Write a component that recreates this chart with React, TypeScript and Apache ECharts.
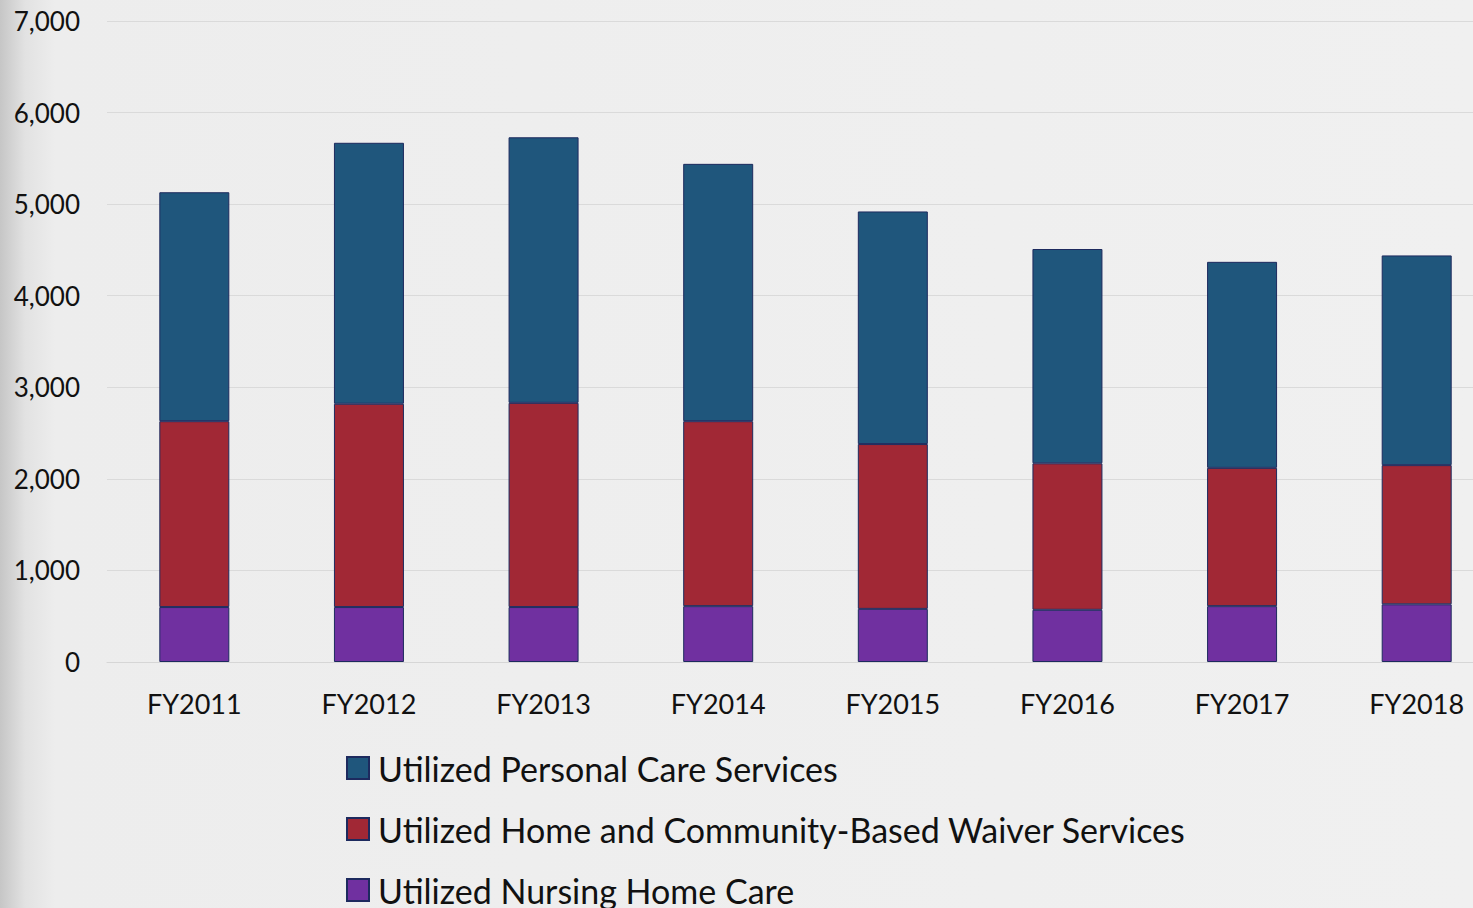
import React, { useEffect, useRef } from "react";
import * as echarts from "echarts";

const categories = ["FY2011", "FY2012", "FY2013", "FY2014", "FY2015", "FY2016", "FY2017", "FY2018"];
const nursingHome = [600, 600, 600, 610, 580, 570, 610, 630];
const hcbsWaiver = [2030, 2220, 2230, 2020, 1800, 1600, 1510, 1520];
const personalCare = [2500, 2850, 2900, 2810, 2540, 2340, 2250, 2290];

const seriesNames = [
  "Utilized Personal Care Services",
  "Utilized Home and Community-Based Waiver Services",
  "Utilized Nursing Home Care",
];

export default function App() {
  const ref = useRef<HTMLDivElement>(null);
  useEffect(() => {
    if (!ref.current) return;
    const chart = echarts.init(ref.current, undefined, { renderer: "svg" });
    const border = { borderColor: "#1d2a5e", borderWidth: 1 };
    chart.setOption({
      animation: false,
      backgroundColor: "transparent",
      textStyle: { fontFamily: "Lato" },
      grid: { left: 107, top: 21, right: 0, height: 641, containLabel: false },
      legend: {
        orient: "vertical",
        left: 341,
        top: 746,
        itemWidth: 22,
        itemHeight: 22,
        itemGap: 27,
        icon: "rect",
        data: seriesNames,
        textStyle: {
          fontSize: 34,
          lineHeight: 34,
          color: "#111",
          fontFamily: "Lato",
          padding: [0, 0, 0, 4],
        },
      },
      xAxis: {
        type: "category",
        data: categories,
        axisTick: { show: false },
        axisLine: { lineStyle: { color: "#d6d6d6", width: 1 } },
        axisLabel: { fontSize: 27, color: "#111", margin: 28, fontFamily: "Lato" },
      },
      yAxis: {
        type: "value",
        min: 0,
        max: 7000,
        interval: 1000,
        axisLine: { show: false },
        axisTick: { show: false },
        splitLine: { lineStyle: { color: "#dadada", width: 1 } },
        axisLabel: {
          fontSize: 26,
          color: "#111",
          margin: 27,
          fontFamily: "Lato",
          formatter: (v: number) => v.toLocaleString("en-US"),
        },
      },
      series: [
        {
          name: seriesNames[2],
          type: "bar",
          stack: "total",
          barWidth: 70,
          data: nursingHome,
          itemStyle: { color: "#7030a0", ...border },
        },
        {
          name: seriesNames[1],
          type: "bar",
          stack: "total",
          barWidth: 70,
          data: hcbsWaiver,
          itemStyle: { color: "#a12835", ...border },
        },
        {
          name: seriesNames[0],
          type: "bar",
          stack: "total",
          barWidth: 70,
          data: personalCare,
          itemStyle: { color: "#1f567c", ...border },
        },
      ],
    });
    return () => chart.dispose();
  }, []);
  return (
    <div
      style={{
        position: "fixed",
        left: 0,
        top: 0,
        width: 1473,
        height: 908,
        overflow: "hidden",
        background:
          "linear-gradient(to right, #c6c6c6 0px, #e2e2e2 25px, #ededed 55px, #f0f0f0 100%)",
      }}
    >
      <div ref={ref} style={{ position: "absolute", left: 0, top: 0, width: 1504, height: 960 }} />
    </div>
  );
}
